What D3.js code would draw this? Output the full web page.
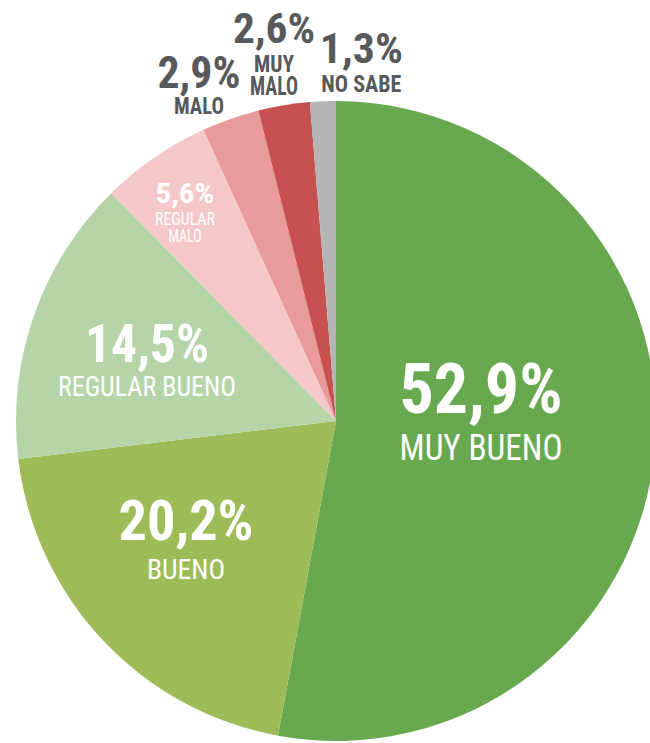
<!DOCTYPE html>
<html>
<head>
<meta charset="utf-8">
<script src="https://cdn.jsdelivr.net/npm/d3@7"></script>
<style>
  html, body { margin: 0; padding: 0; background: #fff; }
  svg text { font-family: "Liberation Sans Narrow", "Roboto Condensed", "DejaVu Sans Condensed", "Liberation Sans", sans-serif; }
</style>
</head>
<body>
<svg id="chart" width="650" height="743"></svg>
<script>
// data
var categories = ["MUY BUENO", "BUENO", "REGULAR BUENO", "REGULAR MALO", "MALO", "MUY MALO", "NO SABE"]
var values     = [52.9, 20.2, 14.5, 5.6, 2.9, 2.6, 1.3]
var slice_colors = ["#68a84f", "#9dbb57", "#b5d5a9", "#f4c8c8", "#e99a9a", "#c55150", "#b5b5b5"]

// label layout: k = fraction of radius along the slice middle, dx/dy nudge of the % baseline,
// pct = [font size, width], lines = [text, baseline offset, font size, width]
var label_layout = [
	{k: 0.455, dx: 0,   dy: -21, fill: "#fff", pct: [71, 163], lines: [["MUY BUENO", 47, 37, 163]]},
	{k: 0.643, dx: 0,   dy: -22, fill: "#fff", pct: [56, 135], lines: [["BUENO", 39, 27, 78]]},
	{k: 0.626, dx: 0,   dy: 7,   fill: "#fff", pct: [54, 124], lines: [["REGULAR BUENO", 34, 28, 178]]},
	{k: 0.832, dx: 0,   dy: 1,   fill: "#fff", pct: [28, 59],  lines: [["REGULAR", 22, 18, 60], ["MALO", 39, 18, 33]]},
	{k: 1.10,  dx: -21, dy: -1,  fill: "#58595b", pct: [45, 83], lines: [["MALO", 26, 24, 50]]},
	{k: 1.19,  dx: 0,   dy: -2,  fill: "#58595b", pct: [42, 82], lines: [["MUY", 29, 24, 40], ["MALO", 52, 25, 48]]},
	{k: 1.12,  dx: 40,  dy: 0,   fill: "#58595b", pct: [43, 83], lines: [["NO SABE", 29, 24, 80]]}
]

var cx = 336, cy = 421, radius = 320

var svg = d3.select("#chart")
var g = svg.append("g").attr("transform", "translate(" + cx + "," + cy + ")")

var color = d3.scaleOrdinal().domain(categories).range(slice_colors)
var es = d3.formatLocale({decimal: ",", thousands: ".", grouping: [3], currency: ["", "€"]})
var fmt = es.format(".1f")

var rows = categories.map((c, i) => ({name: c, value: values[i], layout: label_layout[i]}))

var pie = d3.pie().sort(null).value(d => d.value)
var arc = d3.arc().innerRadius(0).outerRadius(radius)
var arcs = pie(rows)

g.selectAll(".slice")
  .data(arcs)
  .enter()
  .append("path")
  .attr("class", "slice")
  .attr("d", arc)
  .style("fill", d => color(d.data.name))
  .style("stroke", "none")

var labels = g.selectAll(".label")
  .data(arcs)
  .enter()
  .append("g")
  .attr("class", "label")
  .attr("transform", d => {
	var a = (d.startAngle + d.endAngle) / 2,
	    r = d.data.layout.k * radius,
	    x = Math.sin(a) * r + d.data.layout.dx,
	    y = -Math.cos(a) * r + d.data.layout.dy
	return "translate(" + x + "," + y + ")"
  })
  .style("fill", d => d.data.layout.fill)

labels.append("text")
  .attr("text-anchor", "middle")
  .attr("font-weight", "bold")
  .attr("font-size", d => d.data.layout.pct[0])
  .attr("textLength", d => d.data.layout.pct[1])
  .attr("lengthAdjust", "spacingAndGlyphs")
  .text(d => fmt(d.data.value) + "%")

labels.each(function (d) {
	d3.select(this).selectAll(".name")
	  .data(d.data.layout.lines)
	  .enter()
	  .append("text")
	  .attr("class", "name")
	  .attr("text-anchor", "middle")
	  .attr("y", l => l[1])
	  .attr("font-size", l => l[2])
	  .attr("font-weight", d.data.layout.fill === "#fff" ? "normal" : "bold")
	  .attr("textLength", l => l[3])
	  .attr("lengthAdjust", "spacingAndGlyphs")
	  .text(l => l[0])
})
</script>
</body>
</html>
